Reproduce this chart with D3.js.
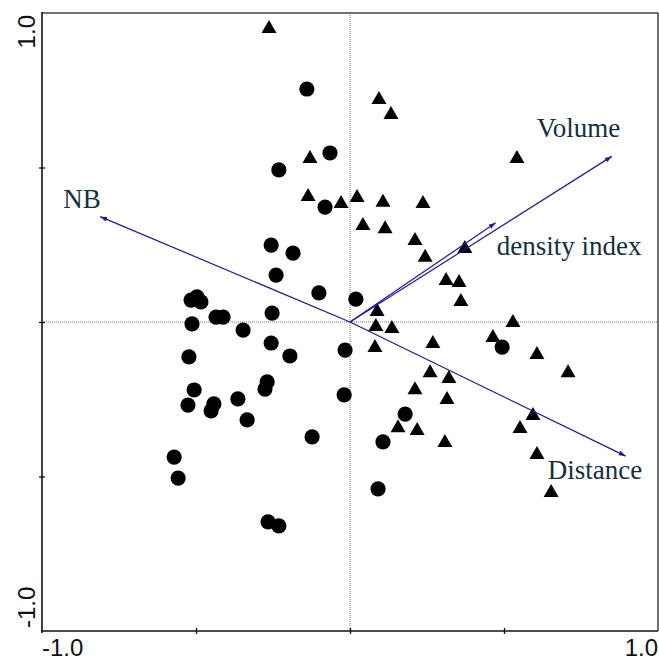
<!DOCTYPE html>
<html>
<head>
  <meta charset="utf-8">
  <title>Biplot</title>
  <script src="https://d3js.org/d3.v7.min.js"></script>
  <style>
    body { margin: 0; background: #fff; }
    svg { display: block; }
    .tick-label { font-family: "Liberation Sans", Arial, sans-serif; font-size: 24px; fill: #111; }
    .vec-label { font-family: "Liberation Serif", "Times New Roman", serif; font-size: 27px; fill: #13303d; }
  </style>
</head>
<body>
<div id="chart"></div>
<script>
// sample scores, group 1 (circles)
var circX = [-0.140, -0.231, -0.065, -0.081, -0.256, -0.185, -0.240, -0.101, 0.019, -0.516,
             -0.497, -0.484, -0.513, -0.435, -0.412, -0.347, -0.253, -0.256, -0.195, -0.523,
             -0.016, -0.506, -0.526, -0.442, -0.451, -0.364, -0.269, -0.276, -0.334, -0.019,
             -0.123, -0.571, -0.558, -0.266, -0.231, 0.091, 0.107, 0.179, 0.494];
var circY = [0.754, 0.492, 0.547, 0.372, 0.249, 0.223, 0.152, 0.094, 0.074, 0.071,
             0.081, 0.065, -0.006, 0.016, 0.016, -0.026, 0.029, -0.068, -0.110, -0.113,
             -0.091, -0.220, -0.269, -0.265, -0.288, -0.249, -0.194, -0.217, -0.317, -0.236,
             -0.372, -0.437, -0.505, -0.647, -0.660, -0.540, -0.388, -0.298, -0.081];

// sample scores, group 2 (triangles)
var triX = [-0.263, 0.094, 0.133, -0.130, 0.542, -0.136, -0.029, 0.023, 0.107, 0.237,
            0.042, 0.114, 0.211, 0.244, 0.373, 0.312, 0.354, 0.360, 0.088, 0.084,
            0.136, 0.529, 0.081, 0.269, 0.464, 0.607, 0.708, 0.260, 0.321, 0.211,
            0.315, 0.594, 0.552, 0.156, 0.218, 0.308, 0.607, 0.653];
var triY = [0.955, 0.725, 0.676, 0.534, 0.534, 0.411, 0.388, 0.408, 0.392, 0.388,
            0.317, 0.307, 0.269, 0.214, 0.243, 0.139, 0.133, 0.071, 0.039, -0.010,
            -0.016, 0.003, -0.078, -0.065, -0.045, -0.100, -0.159, -0.159, -0.178, -0.214,
            -0.246, -0.298, -0.340, -0.337, -0.346, -0.385, -0.424, -0.547];

// environmental vectors
var vecNames = ["NB", "Volume", "density index", "Distance"];
var vecX = [-0.811, 0.850, 0.473, 0.895];
var vecY = [0.341, 0.536, 0.321, -0.434];

var axisTicks = [-0.5, 0, 0.5];
var axisEndLabels = ["-1.0", "1.0"];

var width = 659, height = 662;
var x = d3.scaleLinear().domain([-1, 1]).range([42, 658]);
var y = d3.scaleLinear().domain([-1, 1]).range([631, 13]);

var svg = d3.select("#chart").append("svg")
  .attr("width", width)
  .attr("height", height);

svg.append("defs").append("marker")
  .attr("id", "arrow")
  .attr("viewBox", "0 0 10 10")
  .attr("refX", 10).attr("refY", 5)
  .attr("markerWidth", 7).attr("markerHeight", 7)
  .attr("markerUnits", "userSpaceOnUse")
  .attr("orient", "auto")
  .append("path")
  .attr("d", "M0,1.5 L10,5 L0,8.5 Z")
  .attr("fill", "#22189a");

// zero lines
svg.append("line")
  .attr("x1", x(0)).attr("x2", x(0)).attr("y1", y(1)).attr("y2", y(-1))
  .attr("stroke", "#777").attr("stroke-width", 1).attr("stroke-dasharray", "1,1");
svg.append("line")
  .attr("x1", x(-1)).attr("x2", x(1)).attr("y1", y(0)).attr("y2", y(0))
  .attr("stroke", "#777").attr("stroke-width", 1).attr("stroke-dasharray", "1,1");

// frame
svg.append("line").attr("x1", x(-1)).attr("x2", x(1)).attr("y1", y(1)).attr("y2", y(1))
  .attr("stroke", "#444").attr("stroke-width", 1.3);
svg.append("line").attr("x1", x(1)).attr("x2", x(1)).attr("y1", y(1)).attr("y2", y(-1))
  .attr("stroke", "#222").attr("stroke-width", 1.3);

// axes: ticks crossing the axis line
var xAxis = svg.append("g")
  .attr("transform", "translate(0," + y(-1) + ")")
  .call(d3.axisBottom(x).tickValues(axisTicks).tickSize(3).tickFormat(""));
xAxis.select(".domain").remove();
xAxis.selectAll(".tick line").attr("y1", -3).attr("y2", 3).attr("stroke", "#111").attr("stroke-width", 1.3);

var yAxis = svg.append("g")
  .attr("transform", "translate(" + x(-1) + ",0)")
  .call(d3.axisLeft(y).tickValues(axisTicks).tickSize(3).tickFormat(""));
yAxis.select(".domain").remove();
yAxis.selectAll(".tick line").attr("x1", -3).attr("x2", 3).attr("stroke", "#111").attr("stroke-width", 1.3);

svg.append("line").attr("x1", x(-1) - 1).attr("x2", x(1)).attr("y1", y(-1)).attr("y2", y(-1))
  .attr("stroke", "#111").attr("stroke-width", 1.6);
svg.append("line").attr("x1", x(-1)).attr("x2", x(-1)).attr("y1", y(1) - 1).attr("y2", y(-1) + 2)
  .attr("stroke", "#111").attr("stroke-width", 1.6);

// end labels
svg.append("text").attr("class", "tick-label")
  .attr("x", x(-1)).attr("y", 656).attr("text-anchor", "start").text(axisEndLabels[0]);
svg.append("text").attr("class", "tick-label")
  .attr("x", x(1)).attr("y", 656).attr("text-anchor", "end").text(axisEndLabels[1]);
svg.append("text").attr("class", "tick-label")
  .attr("transform", "translate(35," + (y(-1) - 3) + ") rotate(-90)")
  .attr("text-anchor", "start").text(axisEndLabels[0]);
svg.append("text").attr("class", "tick-label")
  .attr("transform", "translate(35," + (y(1) + 2) + ") rotate(-90)")
  .attr("text-anchor", "end").text(axisEndLabels[1]);

// points
var circles = d3.range(circX.length).map(function (i) { return [circX[i], circY[i]]; });
var triangles = d3.range(triX.length).map(function (i) { return [triX[i], triY[i]]; });

svg.append("g").selectAll("circle")
  .data(circles)
  .enter().append("circle")
  .attr("cx", function (d) { return x(d[0]); })
  .attr("cy", function (d) { return y(d[1]); })
  .attr("r", 7.6)
  .attr("fill", "#000");

svg.append("g").selectAll("path")
  .data(triangles)
  .enter().append("path")
  .attr("transform", function (d) { return "translate(" + x(d[0]) + "," + y(d[1]) + ")"; })
  .attr("d", "M0,-7 L7.5,6 L-7.5,6 Z")
  .attr("fill", "#000");

// vectors
var vectors = vecNames.map(function (n, i) { return { name: n, vx: vecX[i], vy: vecY[i] }; });
var labelOffset = {
  "NB": [-37, -9],
  "Volume": [-75, -19],
  "density index": [1, 32],
  "Distance": [-78, 23]
};

svg.append("g").selectAll("line")
  .data(vectors)
  .enter().append("line")
  .attr("x1", x(0)).attr("y1", y(0))
  .attr("x2", function (d) { return x(d.vx); })
  .attr("y2", function (d) { return y(d.vy); })
  .attr("stroke", "#22189a")
  .attr("stroke-width", 1.2)
  .attr("marker-end", "url(#arrow)");

svg.append("g").selectAll("text")
  .data(vectors)
  .enter().append("text")
  .attr("class", "vec-label")
  .attr("x", function (d) { return x(d.vx) + labelOffset[d.name][0]; })
  .attr("y", function (d) { return y(d.vy) + labelOffset[d.name][1]; })
  .text(function (d) { return d.name; });
</script>
</body>
</html>
